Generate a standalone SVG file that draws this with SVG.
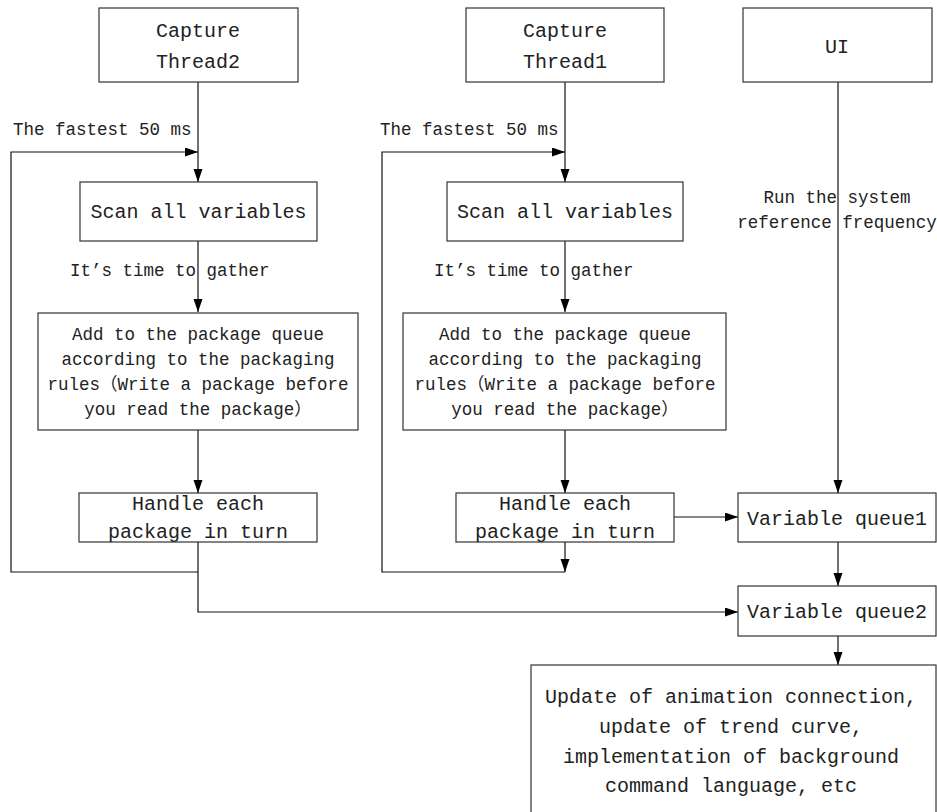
<svg xmlns="http://www.w3.org/2000/svg" width="937" height="812" viewBox="0 0 937 812">
<defs>
<marker id="ah" markerWidth="14" markerHeight="10" refX="13" refY="4.5" orient="auto" markerUnits="userSpaceOnUse">
<path d="M0,0 L13,4.5 L0,9 z" fill="#000"/>
</marker>
<style>
.box{fill:#fff;stroke:#333;stroke-width:1.2}
.ln{fill:none;stroke:#111;stroke-width:1.2}
.ar{marker-end:url(#ah)}
text{font-family:"Liberation Mono","Noto Sans CJK SC",monospace;fill:#222}
.b{font-size:20px;text-anchor:middle}
.s{font-size:17.5px}
.sm{font-size:17.5px;text-anchor:middle}
</style>
</defs>
<rect width="937" height="812" fill="#fff"/>
<g id="connectors">
<path class="ln ar" d="M198,82 V182"/>
<path class="ln ar" d="M198,241 V312"/>
<path class="ln ar" d="M198,430 V493"/>
<path class="ln ar" d="M198,572 H11 V152 H198"/>
<path class="ln ar" d="M198,542 V612 H738"/>
<path class="ln ar" d="M565,82 V182"/>
<path class="ln ar" d="M565,241 V312"/>
<path class="ln ar" d="M565,430 V493"/>
<path class="ln ar" d="M565,542 V572"/>
<path class="ln ar" d="M565,572 H382 V152 H565"/>
<path class="ln ar" d="M674,517 H738"/>
<path class="ln ar" d="M838,82 V493"/>
<path class="ln ar" d="M838,542 V586"/>
<path class="ln ar" d="M838,636 V665"/>
</g>
<g id="labels">
<text class="s" x="13" y="135">The fastest 50 ms</text>
<text class="s" x="380" y="135">The fastest 50 ms</text>
<text class="s" x="70" y="276">It’s time to gather</text>
<text class="s" x="434" y="276">It’s time to gather</text>
<text class="sm" x="837" y="203">Run the system</text>
<text class="sm" x="837" y="228">reference frequency</text>
</g>
<g id="capture2">
<rect class="box" x="99" y="8" width="199" height="74"/>
<text class="b" x="198" y="37">Capture</text>
<text class="b" x="198" y="68">Thread2</text>
</g>
<g id="capture1">
<rect class="box" x="466" y="8" width="198" height="74"/>
<text class="b" x="565" y="37">Capture</text>
<text class="b" x="565" y="68">Thread1</text>
</g>
<g id="ui">
<rect class="box" x="743" y="8" width="189" height="74"/>
<text class="b" x="837" y="53">UI</text>
</g>
<g id="scan2">
<rect class="box" x="80" y="182" width="237" height="59"/>
<text class="b" x="198.5" y="218">Scan all variables</text>
</g>
<g id="scan1">
<rect class="box" x="447" y="182" width="236" height="59"/>
<text class="b" x="565" y="218">Scan all variables</text>
</g>
<g id="add2">
<rect class="box" x="38" y="313" width="320" height="117"/>
<text class="sm" x="198" y="340">Add to the package queue</text>
<text class="sm" x="198" y="365">according to the packaging</text>
<text class="sm" x="198" y="390">rules（Write a package before</text>
<text class="sm" x="198" y="415">you read the package）</text>
</g>
<g id="add1">
<rect class="box" x="403" y="313" width="323" height="117"/>
<text class="sm" x="565" y="340">Add to the package queue</text>
<text class="sm" x="565" y="365">according to the packaging</text>
<text class="sm" x="565" y="390">rules（Write a package before</text>
<text class="sm" x="565" y="415">you read the package）</text>
</g>
<g id="handle2">
<rect class="box" x="79" y="493" width="238" height="49"/>
<text class="b" x="198" y="510">Handle each</text>
<text class="b" x="198" y="538">package in turn</text>
</g>
<g id="handle1">
<rect class="box" x="456" y="493" width="218" height="49"/>
<text class="b" x="565" y="510">Handle each</text>
<text class="b" x="565" y="538">package in turn</text>
</g>
<g id="queue1">
<rect class="box" x="738" y="493" width="198" height="49"/>
<text class="b" x="837" y="525">Variable queue1</text>
</g>
<g id="queue2">
<rect class="box" x="738" y="586" width="198" height="50"/>
<text class="b" x="837" y="618">Variable queue2</text>
</g>
<g id="final">
<rect class="box" x="531" y="665" width="405" height="160"/>
<text class="b" x="731" y="703">Update of animation connection,</text>
<text class="b" x="731" y="733">update of trend curve,</text>
<text class="b" x="731" y="763">implementation of background</text>
<text class="b" x="731" y="792">command language, etc</text>
</g>
</svg>
